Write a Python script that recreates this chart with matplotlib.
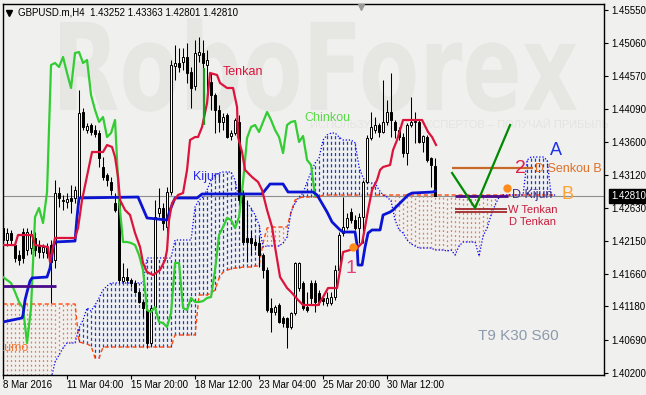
import numpy as np
import matplotlib
matplotlib.use("Agg")
import matplotlib.pyplot as plt
from matplotlib.textpath import TextPath
from matplotlib.patches import PathPatch
from matplotlib.font_manager import FontProperties
from matplotlib.transforms import Affine2D, blended_transform_factory
from matplotlib.lines import Line2D

plt.rcParams['font.family'] = ['Liberation Sans', 'DejaVu Sans']

# ---------------------------------------------------------------- GBPUSD.m H4 candles
open_ = [1.42335, 1.42158, 1.42261, 1.42084, 1.41937, 1.42276, 1.42011, 1.42040, 1.42188, 1.42084,
         1.41981, 1.42055, 1.42084, 1.41863, 1.42851, 1.42748, 1.42719, 1.42778, 1.42778, 1.42792,
         1.44046, 1.43781, 1.43854, 1.43781, 1.43736, 1.43235, 1.43117, 1.43014, 1.42704, 1.42778,
         1.41553, 1.41612, 1.41568, 1.41524, 1.41391, 1.41244, 1.41126, 1.40639, 1.41170, 1.42556,
         1.42630, 1.42350, 1.42866, 1.44725, 1.44769, 1.44784, 1.44857, 1.44636, 1.44430, 1.44887,
         1.44916, 1.44739, 1.44489, 1.44297, 1.44076, 1.43899, 1.44002, 1.43692, 1.43736, 1.43899,
         1.42822, 1.42188, 1.42188, 1.42129, 1.42114, 1.41937, 1.41716, 1.41155, 1.41096, 1.41199,
         1.41008, 1.41008, 1.40875, 1.41081, 1.41450, 1.41524, 1.41170, 1.41524, 1.41524, 1.41376,
         1.41303, 1.41229, 1.41229, 1.41317, 1.41716, 1.42261, 1.42350, 1.42571, 1.42453, 1.42335,
         1.42497, 1.43014, 1.43663, 1.43781, 1.43854, 1.43751, 1.43899, 1.44046, 1.43899, 1.43781,
         1.43677, 1.43441, 1.43854, 1.43899, 1.43899, 1.43604, 1.43677, 1.43368, 1.43252]
high = [1.42527, 1.42335, 1.42306, 1.42143, 1.42011, 1.42335, 1.42335, 1.42306, 1.42276, 1.42158,
        1.42099, 1.42114, 1.42158, 1.43043, 1.42940, 1.42822, 1.42851, 1.42969, 1.42955, 1.44371,
        1.44105, 1.43884, 1.43884, 1.43854, 1.43781, 1.43382, 1.43146, 1.43087, 1.42851, 1.42822,
        1.41819, 1.41745, 1.41598, 1.41568, 1.41421, 1.41273, 1.41155, 1.41199, 1.42748, 1.42925,
        1.42704, 1.42940, 1.44813, 1.45034, 1.44990, 1.44990, 1.45064, 1.44710, 1.45108, 1.45152,
        1.45108, 1.44961, 1.44621, 1.44326, 1.44149, 1.44031, 1.44031, 1.43781, 1.43958, 1.44002,
        1.42896, 1.42748, 1.42306, 1.42188, 1.42202, 1.41966, 1.41760, 1.41303, 1.41199, 1.41229,
        1.41037, 1.41022, 1.41096, 1.41834, 1.41834, 1.41553, 1.41391, 1.41568, 1.41568, 1.41421,
        1.41347, 1.41391, 1.41391, 1.41789, 1.42276, 1.42792, 1.42556, 1.42630, 1.42527, 1.42556,
        1.43043, 1.43707, 1.44046, 1.43972, 1.43884, 1.44518, 1.44223, 1.44621, 1.43928, 1.43825,
        1.43736, 1.43884, 1.44267, 1.44046, 1.43928, 1.43707, 1.43707, 1.43382, 1.43363]
low = [1.41745, 1.42070, 1.42099, 1.41834, 1.41789, 1.41819, 1.41937, 1.41952, 1.41922, 1.41893,
       1.41893, 1.41893, 1.41229, 1.41745, 1.42645, 1.42601, 1.42630, 1.42556, 1.42704, 1.42748,
       1.43781, 1.43736, 1.43707, 1.43677, 1.43235, 1.43043, 1.42955, 1.42822, 1.42571, 1.41524,
       1.41524, 1.41524, 1.41465, 1.41376, 1.41229, 1.41022, 1.40565, 1.40595, 1.41126, 1.42497,
       1.42306, 1.42261, 1.42822, 1.44518, 1.44636, 1.44666, 1.44474, 1.44105, 1.44371, 1.44784,
       1.44666, 1.44297, 1.44076, 1.43736, 1.43751, 1.43781, 1.43663, 1.43633, 1.43707, 1.42674,
       1.42084, 1.41834, 1.41937, 1.42011, 1.41760, 1.41598, 1.41096, 1.40801, 1.41052, 1.40934,
       1.40875, 1.40565, 1.40845, 1.41052, 1.41406, 1.41126, 1.41096, 1.41199, 1.41096, 1.41199,
       1.41199, 1.41185, 1.41199, 1.41273, 1.41686, 1.42217, 1.42320, 1.42409, 1.42306, 1.42114,
       1.42114, 1.42999, 1.43633, 1.43736, 1.43677, 1.43736, 1.43854, 1.43677, 1.43663, 1.43633,
       1.43382, 1.43264, 1.43825, 1.43589, 1.43589, 1.43456, 1.43309, 1.42940, 1.42801]
close = [1.42158, 1.42261, 1.42158, 1.41893, 1.41863, 1.41893, 1.42276, 1.42247, 1.42011, 1.41981,
         1.42055, 1.41966, 1.41834, 1.42851, 1.42778, 1.42733, 1.42763, 1.42733, 1.42896, 1.44031,
         1.43825, 1.43840, 1.43751, 1.43722, 1.43368, 1.43087, 1.43043, 1.42896, 1.42601, 1.41568,
         1.41612, 1.41568, 1.41524, 1.41391, 1.41244, 1.41155, 1.40639, 1.41155, 1.42497, 1.42630,
         1.42409, 1.42866, 1.44739, 1.44769, 1.44710, 1.44857, 1.44621, 1.44400, 1.44916, 1.44931,
         1.44769, 1.44813, 1.44297, 1.44076, 1.43899, 1.43972, 1.43677, 1.43736, 1.43928, 1.42748,
         1.42129, 1.42129, 1.42114, 1.42084, 1.41937, 1.41716, 1.41126, 1.41096, 1.41170, 1.40949,
         1.40934, 1.40875, 1.41081, 1.41819, 1.41819, 1.41155, 1.41126, 1.41303, 1.41244, 1.41244,
         1.41258, 1.41303, 1.41317, 1.41716, 1.42232, 1.42350, 1.42483, 1.42453, 1.42335, 1.42497,
         1.43014, 1.43663, 1.43825, 1.43854, 1.43751, 1.43899, 1.44046, 1.43928, 1.43781, 1.43677,
         1.43441, 1.43854, 1.43899, 1.43913, 1.43604, 1.43692, 1.43338, 1.43264, 1.42810]

# ---------------------------------------------------------------- Ichimoku (T9 K30 S60)
tenkan_x = [0, 3, 3.75, 7.25, 8, 11.25, 11.75, 12.5, 13, 18, 18.75, 19.75, 22.25, 25, 26, 27.25,
            28, 28.75, 29.25, 30.5, 31.75, 33, 34.25, 35, 36, 37.5, 39.25, 40.5, 41, 41.5, 42.25,
            43.75, 45, 46, 46.75, 48, 48.75, 49.75, 51, 51.75, 53.5, 54.25, 56, 57.5, 58.5, 58.75,
            59.75, 60.5, 62.25, 63.75, 64.75, 66, 67.25, 68, 69.25, 71, 72.25, 73.75, 75, 78.75, 80,
            81.25, 83.5, 84.25, 85, 88.5, 89.75, 90.5, 91.25, 92.25, 93.5, 94.25, 95, 96.75, 97.5,
            98.5, 99.25, 100, 104.75, 106.25, 107.25, 108.25]
tenkan_y = [1.42084, 1.42084, 1.42232, 1.42232, 1.42084, 1.42055, 1.41834, 1.42055, 1.42188, 1.42188,
            1.42335, 1.42748, 1.43456, 1.43456, 1.43559, 1.43530, 1.43382, 1.43087, 1.42748, 1.42601,
            1.42527, 1.42261, 1.42055, 1.41819, 1.41686, 1.41642, 1.41716, 1.41863, 1.42011, 1.42453,
            1.42704, 1.42822, 1.42851, 1.43191, 1.43633, 1.43677, 1.43677, 1.43825, 1.44179, 1.44621,
            1.44592, 1.44474, 1.44400, 1.44400, 1.44120, 1.43677, 1.43456, 1.43191, 1.43087, 1.43014,
            1.42896, 1.42601, 1.42350, 1.42055, 1.41612, 1.41450, 1.41376, 1.41273, 1.41199, 1.41199,
            1.41317, 1.41450, 1.41450, 1.41716, 1.41981, 1.42040, 1.42114, 1.42350, 1.42601, 1.42896,
            1.43043, 1.43191, 1.43235, 1.43264, 1.43486, 1.43633, 1.43781, 1.43928, 1.43928, 1.43751,
            1.43677, 1.43559]

kijun_x = [0, 4.75, 5, 5.5, 6, 6.75, 7.25, 11, 11.75, 12.5, 13, 18, 18.5, 19, 33.75, 36, 41,
           41.75, 43, 48.5, 49.75, 64.75, 66.75, 70, 71.25, 77.5, 78.5, 79.25, 81, 82.25, 84.25,
           85, 88, 88.5, 88.75, 89.75, 90.5, 91.25, 92.25, 94.25, 95, 96.75, 97.5, 99.25, 101.25,
           102.25, 107.5, 108]
kijun_y = [1.40949, 1.41008, 1.41052, 1.41273, 1.41391, 1.41553, 1.41598, 1.41612, 1.41745, 1.42040,
           1.42129, 1.42143, 1.42497, 1.42778, 1.42792, 1.42483, 1.42453, 1.42601, 1.42778, 1.42778,
           1.42837, 1.42837, 1.42984, 1.42984, 1.42866, 1.42866, 1.42822, 1.42748, 1.42571, 1.42424,
           1.42306, 1.42276, 1.42276, 1.42084, 1.41789, 1.41789, 1.42055, 1.42261, 1.42306, 1.42306,
           1.42527, 1.42571, 1.42601, 1.42704, 1.42822, 1.42851, 1.42866, 1.42881]

chinkou_shift = 30

# Senkou spans, one value per bar (bars 0..138, cloud runs 30 bars ahead)
span_a = [1.41214, 1.41214, 1.41214, 1.41214, 1.41214, 1.41214, 1.41214, 1.41214, 1.41214, 1.41214,
          1.41214, 1.41214, 1.41214, 1.41214, 1.41214, 1.41214, 1.41214, 1.41214, 1.41214, 1.40654,
          1.40639, 1.40624, 1.40595, 1.40418, 1.40418, 1.40580, 1.40580, 1.40580, 1.40580, 1.40580,
          1.40580, 1.40580, 1.40580, 1.40580, 1.40580, 1.40580, 1.40580, 1.40580, 1.40580, 1.40580,
          1.40580, 1.40580, 1.40580, 1.40757, 1.40757, 1.40757, 1.40757, 1.40757, 1.40757, 1.41347,
          1.41347, 1.41347, 1.41376, 1.41421, 1.41598, 1.41686, 1.41716, 1.41730, 1.41745, 1.41745,
          1.41760, 1.41760, 1.41760, 1.41775, 1.41775, 1.42114, 1.42335, 1.42350, 1.42350, 1.42350,
          1.42350, 1.42350, 1.42571, 1.42748, 1.42778, 1.42792, 1.42792, 1.42792, 1.42792, 1.42792,
          1.42822, 1.42822, 1.42822, 1.42822, 1.42822, 1.42822, 1.42822, 1.42822, 1.42822, 1.42822,
          1.42822, 1.42822, 1.42822, 1.42822, 1.42822, 1.42822, 1.42822, 1.42822, 1.42822, 1.42822,
          1.42822, 1.42822, 1.42822, 1.42822, 1.42822, 1.42822, 1.42822, 1.42822, 1.42822, 1.42822,
          1.42822, 1.42822, 1.42822, 1.42822, 1.42822, 1.42822, 1.42822, 1.42822, 1.42822, 1.42822,
          1.42822, 1.42822, 1.42822, 1.42822, 1.42822, 1.42822, 1.42822, 1.42822, 1.42822, 1.42822,
          1.42822, 1.42822, 1.42822, 1.42822, 1.42822, 1.42822, 1.42822, 1.42822, 1.42822]
span_b = [1.40100, 1.40100, 1.40100, 1.40100, 1.40100, 1.40100, 1.40100, 1.40100, 1.40100, 1.40100,
          1.40100, 1.40100, 1.40100, 1.40359, 1.40462, 1.40565, 1.40639, 1.40639, 1.40639, 1.40860,
          1.40978, 1.41155, 1.41111, 1.41199, 1.41303, 1.41421, 1.41480, 1.41524, 1.41524, 1.41524,
          1.41524, 1.41524, 1.41524, 1.41524, 1.41524, 1.41524, 1.41893, 1.41893, 1.41893, 1.41893,
          1.41893, 1.41893, 1.41893, 1.42158, 1.42158, 1.42158, 1.42158, 1.42158, 1.42645, 1.42748,
          1.42792, 1.42896, 1.43043, 1.43117, 1.43146, 1.43161, 1.43161, 1.43161, 1.43043, 1.42748,
          1.42704, 1.42704, 1.42630, 1.42527, 1.42379, 1.42055, 1.42070, 1.42070, 1.42070, 1.42070,
          1.42114, 1.42202, 1.42571, 1.42704, 1.42792, 1.42851, 1.43014, 1.43161, 1.43294, 1.43368,
          1.43633, 1.43707, 1.43736, 1.43736, 1.43677, 1.43633, 1.43633, 1.43633, 1.43589, 1.43235,
          1.43073, 1.43014, 1.42999, 1.42999, 1.42896, 1.42822, 1.42792, 1.42733, 1.42453, 1.42306,
          1.42261, 1.42158, 1.42099, 1.42070, 1.42040, 1.42040, 1.42040, 1.42040, 1.42011, 1.42011,
          1.42011, 1.41996, 1.42011, 1.41937, 1.42070, 1.42129, 1.42129, 1.42129, 1.42129, 1.41922,
          1.42217, 1.42335, 1.42527, 1.42674, 1.42792, 1.42822, 1.42822, 1.42822, 1.42822, 1.42822,
          1.42822, 1.43338, 1.43382, 1.43382, 1.43382, 1.43382, 1.43338, 1.42822, 1.42822]

# ---------------------------------------------------------------- axis labels
price_ticks = [1.45550, 1.45060, 1.44570, 1.44090, 1.43600, 1.43120, 1.42630,
               1.42150, 1.41660, 1.41180, 1.40690, 1.40200]
time_ticks = [0, 16, 32, 48, 64, 80, 96]
time_labels = ['8 Mar 2016', '11 Mar 04:00', '15 Mar 20:00', '18 Mar 12:00',
               '23 Mar 04:00', '25 Mar 20:00', '30 Mar 12:00']
last_price = 1.42810

# ---------------------------------------------------------------- analyst markup
d_senkou_b = 1.43224
d_kijun = 1.42800
w_tenkan = 1.42620
d_tenkan = 1.42567
w_kijun_left = 1.41480
check_x = [112.25, 118, 126.75]
check_y = [1.43146, 1.42630, 1.43854]
dots_x = [87.5, 126]
dots_y = [1.42055, 1.42925]

BG = '#F0F0EE'
W, H = 646, 395

fig = plt.figure(figsize=(W / 100, H / 100), dpi=100, facecolor=BG)
ax = fig.add_axes([2.7 / W, 20 / H, 601.6 / W, 371 / H], facecolor=BG)
ax.set_xlim(-0.08, 150.3)
ax.set_ylim(1.40167, 1.45639)

# watermark
tp = TextPath((0, 0), 'RoboForex', size=1,
              prop=FontProperties(family='DejaVu Sans', weight='bold'))
bb = tp.get_extents()
sx = 517 / (bb.x1 - bb.x0)
sy = 88 / 0.729
wm_tr = (Affine2D().translate(-bb.x0, 0).scale(sx / W, sy / H)
         .translate(60 / W, (H - 110) / H) + fig.transFigure)
wm = PathPatch(tp, transform=wm_tr, facecolor='#E6E6E3', edgecolor='none',
               zorder=0.5, clip_on=False)
ax.add_patch(wm)
ax.text(310 / W, 1 - 125 / H, 'ИСПОЛЬЗУЙ ОПЫТ ЭКСПЕРТОВ – ПОЛУЧАЙ ПРИБЫЛЬ',
        transform=fig.transFigure, fontsize=8, color='#E4E4E1', va='center', zorder=0.6)

o = np.array(open_)
h = np.array(high)
l = np.array(low)
c = np.array(close)
bars = np.arange(len(c))

# kumo hatch
a = np.array(span_a)
b = np.array(span_b)
cx = np.arange(len(a))
up_cloud = a >= b
ax.vlines(cx[up_cloud], b[up_cloud], a[up_cloud], colors='#F2784A', lw=0.9,
          linestyles=(0, (1.5, 2.2)), zorder=2)
ax.vlines(cx[~up_cloud], a[~up_cloud], b[~up_cloud], colors='#1A3AE0', lw=0.9,
          linestyles=(0, (2.5, 2)), zorder=2)
ax.plot(cx, a, color='#FF4A10', lw=1, ls=(0, (3, 2)), zorder=2.5)
ax.plot(cx, b, color='#0000FF', lw=0.9, ls=(0, (1, 1.5)), zorder=2.5)

ax.axhline(last_price, color='#8E8E8E', lw=0.8, zorder=1.5)

# candles
bull = c >= o
ax.vlines(bars, l, h, color='black', lw=0.75, zorder=3)
ax.bar(bars, c - o, bottom=o, width=0.55, color=np.where(bull, 'white', 'black'),
       edgecolor='black', linewidth=0.7, zorder=4)

# lines
ax.plot(bars[:-chinkou_shift], c[chinkou_shift:], color='#32CD32', lw=1.6, zorder=5)
ax.plot(kijun_x, kijun_y, color='#0A14D2', lw=2, zorder=5)
ax.plot(tenkan_x, tenkan_y, color='#DC143C', lw=1.6, zorder=5)
ax.vlines(50.25, 1.43854, 1.44695, color='#1E9A1E', lw=1.6, zorder=5)

# markup
ax.hlines(w_kijun_left, 0, 13.25, color='#4B0A8A', lw=2, zorder=5)
ax.hlines(d_senkou_b, 112.25, 132.5, color='#C8692A', lw=1.6, zorder=6)
ax.hlines(d_kijun, 113, 126.25, color='#4B0A8A', lw=2, zorder=6)
ax.hlines([w_tenkan, d_tenkan], 113, 126, color='#A0282A', lw=1.3, zorder=6)
ax.plot(check_x, check_y, color='#008A00', lw=1.6, zorder=6)
ax.plot(dots_x, dots_y, 'o', color='#FF8C1A', ms=6, mec='none', zorder=6)

lab = dict(va='center', ha='left', zorder=7)
ax.text(55, 1.44636, 'Tenkan', color='#DC143C', fontsize=9, **lab)
ax.text(75.25, 1.43958, 'Chinkou', color='#5BD94A', fontsize=9, **lab)
ax.text(47.5, 1.43087, 'Kijun', color='#2A2AE6', fontsize=9, **lab)
ax.text(6.25, 1.40565, 'Kumo', color='#F07838', fontsize=9, ha='right', va='center',
        zorder=7, clip_on=True)
ax.text(133, 1.43205, 'D Senkou B', color='#E07028', fontsize=9, **lab)
ax.text(127.25, 1.42822, 'D Kijun', color='#3B2F8F', fontsize=9, **lab)
ax.text(126.25, 1.42608, 'W Tenkan', color='#C81E3C', fontsize=8, **lab)
ax.text(126.5, 1.42431, 'D Tenkan', color='#C81E3C', fontsize=8, **lab)
ax.text(138.25, 1.43471, 'A', color='#1E32E6', fontsize=13, ha='center', va='center', zorder=7)
ax.text(141.1, 1.42829, 'B', color='#FFA033', fontsize=13, ha='center', va='center', zorder=7)
ax.text(129.25, 1.43220, '2', color='#E0204A', fontsize=14, ha='center', va='center', zorder=7)
ax.text(87, 1.41745, '1', color='#E4407A', fontsize=14, ha='center', va='center', zorder=7)
ax.text(118.75, 1.40742, 'T9 K30 S60', color='#8C9AAE', fontsize=11, **lab)

# axes styling
for s in ax.spines.values():
    s.set_color('black')
    s.set_linewidth(1)
ax.yaxis.tick_right()
ax.set_yticks(price_ticks)
ax.set_yticklabels([f'{p:.5f}' for p in price_ticks])
ax.set_xticks(time_ticks)
ax.set_xticklabels(time_labels, ha='left')
ax.tick_params(axis='y', direction='out', length=3, width=0.8, pad=2, labelsize=7)
ax.tick_params(axis='x', direction='out', length=3, width=0.8, pad=0.5, labelsize=7)

ax.text(1.0117, last_price, f'{last_price:.5f}', color='white', fontsize=7,
        ha='left', va='center',
        transform=blended_transform_factory(ax.transAxes, ax.transData),
        bbox=dict(boxstyle='square,pad=0.2', fc='black', ec='black'), clip_on=False)

# header
fig.text(18 / W, 1 - 12.5 / H, 'GBPUSD.m,H4  1.43252 1.43363 1.42801 1.42810',
         fontsize=7, va='center', color='black')
fig.add_artist(Line2D([9 / W], [1 - 12.5 / H], marker='v', ms=4.5, color='black',
                      transform=fig.transFigure))
fig.add_artist(Line2D([361 / W], [1 - 7 / H], marker='v', ms=4.5, color='#9A9A9A',
                      transform=fig.transFigure))

fig.savefig('out.png', dpi=100, facecolor=BG)
